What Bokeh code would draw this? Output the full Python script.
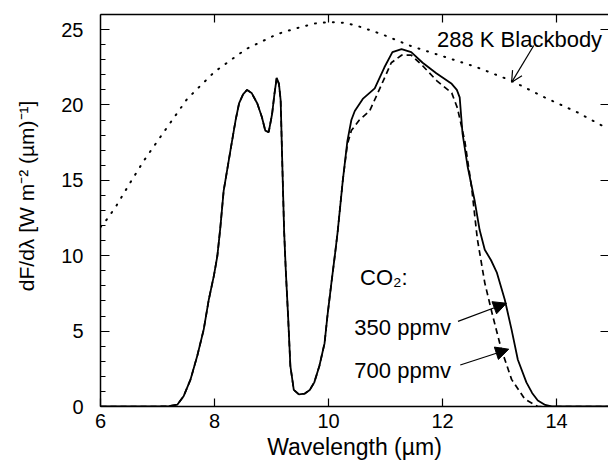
from bokeh.plotting import figure
from bokeh.models import LinearAxis, Range1d, Arrow, NormalHead, OpenHead, FixedTicker, Label
from bokeh.embed import file_html
from bokeh.resources import INLINE

# 288 K blackbody (dotted)
x_bb = [6.0, 6.09, 6.26, 6.53, 6.76, 7.11, 7.52, 8.0, 8.55, 9.1, 9.45, 9.75, 10.0, 10.25,
        10.46, 10.93, 11.45, 12.03, 12.6, 13.21, 13.79, 14.37, 14.91]
y_bb = [11.9, 12.3, 13.2, 14.9, 16.3, 18.2, 20.4, 22.2, 23.7, 24.7, 25.1, 25.4, 25.5, 25.45,
        25.3, 24.7, 23.9, 23.2, 22.5, 21.6, 20.5, 19.5, 18.4]

# 350 ppmv (solid)
x_350 = [6.0, 7.0, 7.2, 7.35, 7.46, 7.58, 7.70, 7.81, 7.90, 7.99, 8.05, 8.10, 8.16, 8.28, 8.37,
         8.43, 8.50, 8.57, 8.65, 8.75, 8.83, 8.89, 8.95, 9.01, 9.05, 9.09, 9.13, 9.16, 9.19,
         9.22, 9.25, 9.29, 9.33, 9.39, 9.48, 9.58, 9.67, 9.75, 9.84, 9.93, 9.98, 10.05, 10.11,
         10.16, 10.25, 10.33, 10.40, 10.46, 10.60, 10.81, 10.98, 11.12, 11.28, 11.45, 11.65,
         11.89, 12.16, 12.25, 12.30, 12.35, 12.44, 12.56, 12.65, 12.74, 12.85, 12.95, 13.09,
         13.21, 13.32, 13.47, 13.57, 13.67, 13.80, 13.91, 14.2, 14.91]
y_350 = [0.0, 0.0, 0.02, 0.13, 0.7, 1.8, 3.4, 5.1, 7.1, 8.7, 10.0, 11.8, 14.3, 17.0, 19.0,
         20.1, 20.7, 21.0, 20.8, 20.1, 19.2, 18.3, 18.2, 19.4, 20.7, 21.8, 21.4, 20.3, 15.9,
         11.7, 9.0, 6.0, 2.7, 1.1, 0.8, 0.85, 1.1, 1.6, 2.7, 4.2, 6.0, 8.2, 10.0,
         11.6, 15.0, 17.6, 19.0, 19.6, 20.4, 21.1, 22.5, 23.5, 23.7, 23.5, 22.8,
         22.1, 21.4, 21.0, 20.5, 18.1, 15.9, 13.7, 11.7, 10.4, 9.7, 8.9, 7.1,
         5.1, 3.1, 1.6, 0.9, 0.4, 0.1, 0.0, 0.0, 0.0]

# 700 ppmv (dashed)
x_700 = [6.0, 7.0, 7.2, 7.35, 7.46, 7.58, 7.70, 7.81, 7.90, 7.99, 8.05, 8.10, 8.16, 8.28, 8.37,
         8.43, 8.50, 8.57, 8.65, 8.75, 8.83, 8.89, 8.95, 9.01, 9.05, 9.09, 9.13, 9.16, 9.19,
         9.22, 9.25, 9.29, 9.33, 9.39, 9.48, 9.58, 9.67, 9.75, 9.84, 9.93, 9.98, 10.05, 10.11,
         10.16, 10.25, 10.33, 10.40, 10.46, 10.54, 10.72, 10.90, 11.10, 11.28, 11.45, 11.65,
         11.90, 12.16, 12.26, 12.39, 12.51, 12.61, 12.74, 12.88, 13.03, 13.21, 13.44, 13.67,
         14.2, 14.91]
y_700 = [0.0, 0.0, 0.02, 0.13, 0.7, 1.8, 3.4, 5.1, 7.1, 8.7, 10.0, 11.8, 14.3, 17.0, 19.0,
         20.1, 20.7, 21.0, 20.8, 20.1, 19.2, 18.3, 18.2, 19.4, 20.7, 21.8, 21.4, 20.3, 15.9,
         11.7, 9.0, 6.0, 2.7, 1.1, 0.8, 0.85, 1.1, 1.6, 2.7, 4.2, 6.0, 8.2, 10.0,
         11.6, 15.0, 17.4, 18.3, 18.6, 19.0, 19.6, 21.1, 22.8, 23.3, 23.3, 22.6,
         21.6, 20.8, 19.8, 17.6, 14.5, 11.1, 8.2, 6.0, 3.8, 1.8, 0.5, 0.0,
         0.0, 0.0]

x_ticks = [6, 8, 10, 12, 14]
x_ticks_top = [8, 10, 12, 14]
y_ticks = [0, 5, 10, 15, 20, 25]
y_minor = list(range(0, 27))

FONT = "Liberation Sans"

p = figure(width=608, height=464, x_range=Range1d(6, 14.91), y_range=Range1d(0, 26),
           output_backend="svg", toolbar_location=None,
           min_border_left=100, min_border_right=0, min_border_top=14, min_border_bottom=58)
p.grid.visible = False
p.outline_line_color = None
p.background_fill_color = "white"
p.border_fill_color = "white"

xa = p.xaxis[0]
xa.ticker = FixedTicker(ticks=x_ticks)
xa.major_tick_in = 8
xa.major_tick_out = 0
xa.minor_tick_in = 0
xa.minor_tick_out = 0
xa.axis_line_width = 1.5
xa.major_tick_line_width = 1.2
xa.major_label_standoff = 7
xa.major_label_text_font = FONT
xa.major_label_text_font_size = "20px"
xa.major_label_text_color = "black"
xa.axis_label = "Wavelength (µm)"
xa.axis_label_text_font = FONT
xa.axis_label_text_font_size = "23px"
xa.axis_label_text_font_style = "normal"
xa.axis_label_text_color = "black"
xa.axis_label_standoff = 3

ya = p.yaxis[0]
ya.ticker = FixedTicker(ticks=y_ticks, minor_ticks=y_minor)
ya.major_tick_in = 9
ya.major_tick_out = 0
ya.minor_tick_in = 5
ya.minor_tick_out = 0
ya.axis_line_width = 1.5
ya.major_tick_line_width = 1.2
ya.minor_tick_line_width = 1.0
ya.major_label_standoff = 17
ya.major_label_text_font = FONT
ya.major_label_text_font_size = "20px"
ya.major_label_text_color = "black"
# leading no-break spaces nudge the centred title upward, as in the original
ya.axis_label = "\u00a0" * 6 + "dF/dλ  [W m⁻² (µm)⁻¹]"
ya.axis_label_text_font = FONT
ya.axis_label_text_font_size = "21px"
ya.axis_label_text_font_style = "normal"
ya.axis_label_text_color = "black"
ya.axis_label_standoff = 20

top = LinearAxis(ticker=FixedTicker(ticks=x_ticks_top), major_tick_in=8, major_tick_out=0,
                 minor_tick_in=0, minor_tick_out=0, axis_line_width=1.5,
                 major_tick_line_width=1.2, major_label_standoff=0,
                 major_label_text_font_size="1px",
                 major_label_overrides={t: "" for t in x_ticks_top})
p.add_layout(top, "above")

right = LinearAxis(ticker=FixedTicker(ticks=y_ticks), major_tick_in=8, major_tick_out=0,
                   minor_tick_in=0, minor_tick_out=0, axis_line_color=None,
                   major_tick_line_width=1.2, major_label_standoff=0,
                   major_label_text_font_size="1px",
                   major_label_overrides={t: "" for t in y_ticks})
p.add_layout(right, "right")

p.line(x_bb, y_bb, line_color="black", line_width=2, line_dash="1 8", line_cap="round")
p.line(x_350, y_350, line_color="black", line_width=1.8)
p.line(x_700, y_700, line_color="black", line_width=1.7, line_dash="6 4")

p.add_layout(Arrow(end=OpenHead(size=11, line_width=1.2, line_color="black"),
                   x_start=13.60, y_start=23.94, x_end=13.21, y_end=21.5,
                   line_width=1.2, line_color="black"))
p.add_layout(Arrow(end=NormalHead(size=13, fill_color="black", line_color="black"),
                   x_start=12.27, y_start=5.65, x_end=13.12, y_end=6.85,
                   line_width=1.2, line_color="black"))
p.add_layout(Arrow(end=NormalHead(size=13, fill_color="black", line_color="black"),
                   x_start=12.31, y_start=2.75, x_end=13.16, y_end=3.8,
                   line_width=1.2, line_color="black"))

def lab(x, y, t, align="left", size="22px"):
    p.add_layout(Label(x=x, y=y, text=t, text_font=FONT, text_font_size=size,
                       text_align=align, text_baseline="alphabetic", text_color="black"))

lab(13.35, 24.35, "288 K Blackbody", align="center")
lab(10.97, 8.55, "CO₂:", align="center")
lab(11.30, 5.24, "350 ppmv", align="center")
lab(11.30, 2.39, "700 ppmv", align="center")

open("out.html", "w").write(file_html(p, INLINE))
